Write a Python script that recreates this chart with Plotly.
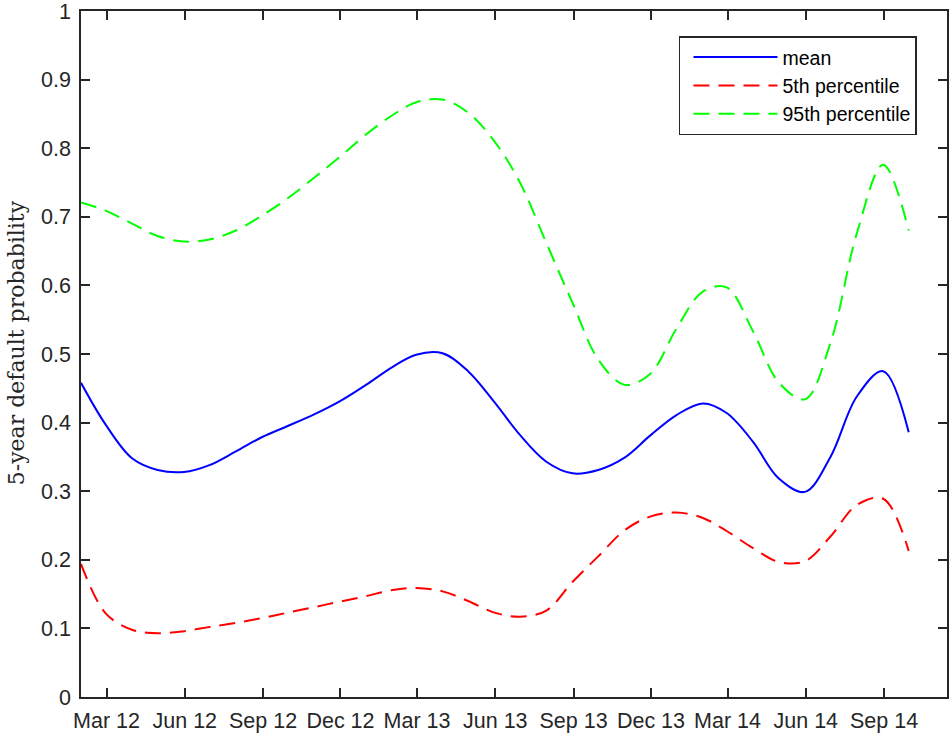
import plotly.graph_objects as go

# Monthly (end-of-month) observation dates
dates = [
    "2012-01-31", "2012-02-29", "2012-03-31", "2012-04-30", "2012-05-31", "2012-06-30",
    "2012-07-31", "2012-08-31", "2012-09-30", "2012-10-31", "2012-11-30", "2012-12-31",
    "2013-01-31", "2013-02-28", "2013-03-31", "2013-04-30", "2013-05-31", "2013-06-30",
    "2013-07-31", "2013-08-31", "2013-09-30", "2013-10-31", "2013-11-30", "2013-12-31",
    "2014-01-31", "2014-02-28", "2014-03-31", "2014-04-30", "2014-05-31", "2014-06-30",
    "2014-07-31", "2014-08-31", "2014-09-30",
]

mean_vals = [
    0.458, 0.397, 0.348, 0.331, 0.328, 0.338, 0.358, 0.379, 0.395, 0.412, 0.431, 0.455,
    0.481, 0.499, 0.501, 0.475, 0.430, 0.382, 0.343, 0.326, 0.331, 0.349, 0.381, 0.411,
    0.428, 0.414, 0.372, 0.319, 0.299, 0.350, 0.438, 0.475, 0.386,
]

p5_vals = [
    0.194, 0.122, 0.098, 0.093, 0.096, 0.102, 0.108, 0.115, 0.123, 0.131, 0.139, 0.147,
    0.156, 0.159, 0.154, 0.140, 0.123, 0.117, 0.126, 0.168, 0.205, 0.243, 0.263, 0.269,
    0.261, 0.242, 0.217, 0.197, 0.198, 0.234, 0.280, 0.289, 0.213,
]

p95_vals = [
    0.721, 0.709, 0.690, 0.672, 0.664, 0.667, 0.680, 0.702, 0.727, 0.757, 0.787, 0.820,
    0.848, 0.867, 0.871, 0.852, 0.810, 0.750, 0.662, 0.574, 0.492, 0.455, 0.471, 0.537,
    0.591, 0.597, 0.533, 0.459, 0.434, 0.516, 0.676, 0.776, 0.680,
]

tick_dates = [
    "2012-03-01", "2012-06-01", "2012-09-01", "2012-12-01", "2013-03-01", "2013-06-01",
    "2013-09-01", "2013-12-01", "2014-03-01", "2014-06-01", "2014-09-01",
]
tick_labels = [
    "Mar 12", "Jun 12", "Sep 12", "Dec 12", "Mar 13", "Jun 13",
    "Sep 13", "Dec 13", "Mar 14", "Jun 14", "Sep 14",
]
y_ticks = [0, 0.1, 0.2, 0.3, 0.4, 0.5, 0.6, 0.7, 0.8, 0.9, 1]
y_tick_labels = ["0", "0.1", "0.2", "0.3", "0.4", "0.5", "0.6", "0.7", "0.8", "0.9", "1"]
y_title = "5-year default probability"

axis_color = "#262626"
font_family = "Liberation Sans, Arial, sans-serif"
tick_fs = 21.5
legend_fs = 19.5

fig = go.Figure()
fig.add_trace(go.Scatter(
    x=dates, y=mean_vals, name="mean", mode="lines",
    line=dict(color="#0000FF", width=2, shape="spline", smoothing=1.0),
))
fig.add_trace(go.Scatter(
    x=dates, y=p5_vals, name="5th percentile", mode="lines",
    line=dict(color="#FF0000", width=2, dash="16px,9px", shape="spline", smoothing=1.0),
))
fig.add_trace(go.Scatter(
    x=dates, y=p95_vals, name="95th percentile", mode="lines",
    line=dict(color="#00FF00", width=2, dash="16px,9px", shape="spline", smoothing=1.0),
))

fig.update_layout(
    width=952, height=736,
    margin=dict(l=81, r=5, t=11, b=39, autoexpand=False),
    paper_bgcolor="white", plot_bgcolor="white",
    font=dict(family=font_family, size=tick_fs, color=axis_color),
    showlegend=True,
    legend=dict(
        x=0.6905, y=0.963, xanchor="left", yanchor="top",
        bgcolor="white", bordercolor=axis_color, borderwidth=1.5,
        font=dict(family=font_family, size=legend_fs, color="#000000"),
        itemwidth=84, tracegroupgap=0, indentation=8,
    ),
    annotations=[dict(
        text=y_title, textangle=-90, showarrow=False,
        xref="paper", yref="paper", x=-0.0751, y=0.517,
        xanchor="center", yanchor="middle",
        font=dict(family="DejaVu Serif, Liberation Serif, serif", size=22, color=axis_color),
    )],
)

fig.update_xaxes(
    type="date",
    range=["2012-01-31", "2014-11-14"],
    tickvals=tick_dates, ticktext=tick_labels,
    ticks="inside", ticklen=9, tickwidth=1.5, tickcolor=axis_color,
    showline=True, linecolor=axis_color, linewidth=1.5, mirror="ticks",
    showgrid=False, zeroline=False,
    ticklabelstandoff=3, ticklabeloverflow="allow",
    tickfont=dict(family=font_family, size=tick_fs, color=axis_color),
)
fig.update_yaxes(
    range=[0, 1],
    tickvals=y_ticks, ticktext=y_tick_labels,
    ticks="inside", ticklen=9, tickwidth=1.5, tickcolor=axis_color,
    showline=True, linecolor=axis_color, linewidth=1.5, mirror="ticks",
    showgrid=False, zeroline=False,
    ticklabelstandoff=4, ticklabeloverflow="allow",
    tickfont=dict(family=font_family, size=tick_fs, color=axis_color),
)

fig.write_html("out.html", config={"displayModeBar": False},
               post_script="document.body.style.margin='0px';")
